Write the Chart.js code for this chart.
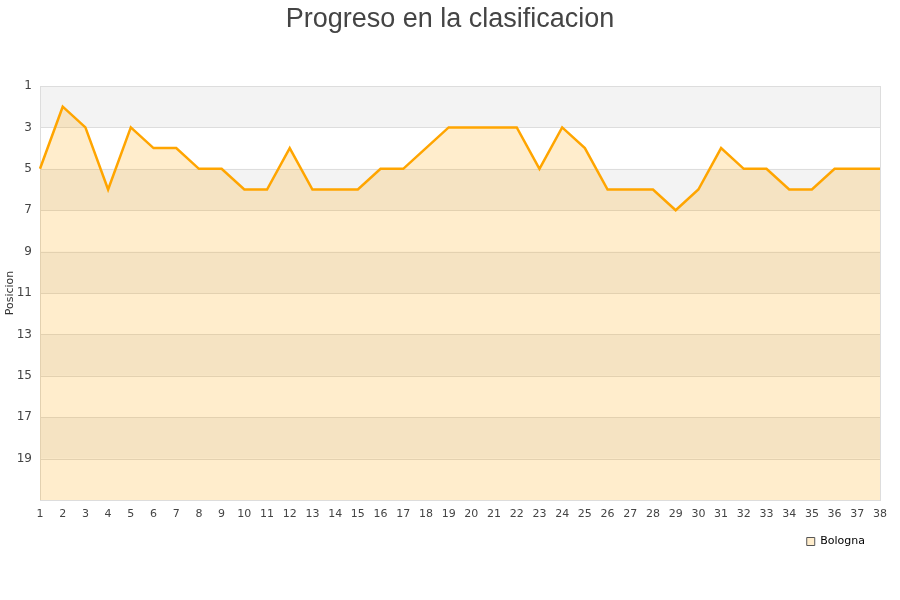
<!DOCTYPE html>
<html><head><meta charset="utf-8">
<script src="https://cdn.jsdelivr.net/npm/chart.js@4"></script>
<style>html,body{margin:0;padding:0;background:#fff}#wrap{width:900px;height:600px}</style>
</head><body><div id="wrap"><canvas id="c" width="900" height="600"></canvas></div>
<script>
const jornadas = ["1","2","3","4","5","6","7","8","9","10","11","12","13","14","15","16","17","18","19","20","21","22","23","24","25","26","27","28","29","30","31","32","33","34","35","36","37","38"];
const bologna = [5,2,3,6,3,4,4,5,5,6,6,4,6,6,6,5,5,4,3,3,3,3,5,3,4,6,6,6,7,6,4,5,5,6,6,5,5,5];
const yTicks = [1,3,5,7,9,11,13,15,17,19];
const titleText = 'Progreso en la clasificacion';

const bands = {
  id: 'bands',
  beforeDatasetsDraw(chart) {
    const {ctx, chartArea: a, scales: {y}} = chart;
    ctx.save();
    for (let v = 1; v < 21; v += 4) {
      const t = y.getPixelForValue(v), b = y.getPixelForValue(v + 2);
      ctx.fillStyle = '#f3f3f3';
      ctx.fillRect(a.left, t, a.right - a.left, b - t);
    }
    ctx.strokeStyle = '#dddddd';
    ctx.lineWidth = 1;
    yTicks.forEach(v => {
      const p = Math.round(y.getPixelForValue(v)) + 0.5;
      ctx.beginPath(); ctx.moveTo(a.left, p); ctx.lineTo(a.right, p); ctx.stroke();
    });
    ctx.strokeRect(Math.round(a.left) + 0.5, Math.round(a.top) + 0.5, Math.round(a.right - a.left), Math.round(a.bottom - a.top));
    ctx.restore();
  },
  afterDraw(chart) {
    const ctx = chart.ctx;
    ctx.save();
    ctx.fillStyle = '#444';
    ctx.font = '27px "Liberation Sans"';
    ctx.textAlign = 'center';
    ctx.textBaseline = 'alphabetic';
    ctx.fillText(titleText, chart.width / 2, 27);
    ctx.restore();
  }
};

new Chart(document.getElementById('c'), {
  type: 'line',
  data: {
    labels: jornadas,
    datasets: [{
      label: 'Bologna',
      data: bologna,
      borderColor: '#ffa500',
      backgroundColor: 'rgba(255,165,0,0.2)',
      borderWidth: 2.5,
      pointRadius: 0,
      tension: 0,
      fill: 'start'
    }]
  },
  options: {
    responsive: false,
    animation: false,
    layout: { padding: { left: 0, right: 20, top: 86, bottom: 43 } },
    plugins: {
      title: { display: false },
      legend: {
        position: 'bottom',
        align: 'end',
        labels: {
          boxWidth: 8, boxHeight: 8,
          color: '#222',
          font: { family: 'DejaVu Sans', size: 11 },
          padding: 15,
          generateLabels(chart) {
            return [{ text: 'Bologna', fillStyle: 'rgba(255,165,0,0.2)', strokeStyle: '#555', lineWidth: 1, datasetIndex: 0 }];
          }
        }
      },
      tooltip: { enabled: false }
    },
    scales: {
      x: {
        type: 'category',
        offset: false,
        grid: { display: false, drawTicks: false },
        border: { display: false },
        afterFit(s) { s.height = 21; },
        ticks: { color: '#444', font: { family: 'DejaVu Sans', size: 11 }, maxRotation: 0, autoSkip: false, padding: 8 }
      },
      y: {
        reverse: true,
        min: 1, max: 21,
        afterBuildTicks(s) { s.ticks = yTicks.map(v => ({ value: v })); },
        afterFit(s) { s.width = 40; },
        grid: { display: false, drawTicks: false },
        border: { display: false },
        ticks: { color: '#444', font: { family: 'DejaVu Sans', size: 12 }, padding: 8 },
        title: { display: true, text: 'Posicion', color: '#333', font: { family: 'DejaVu Sans', size: 11 }, padding: { top: 4, bottom: 0 } }
      }
    }
  },
  plugins: [bands]
});
</script>
</body></html>
